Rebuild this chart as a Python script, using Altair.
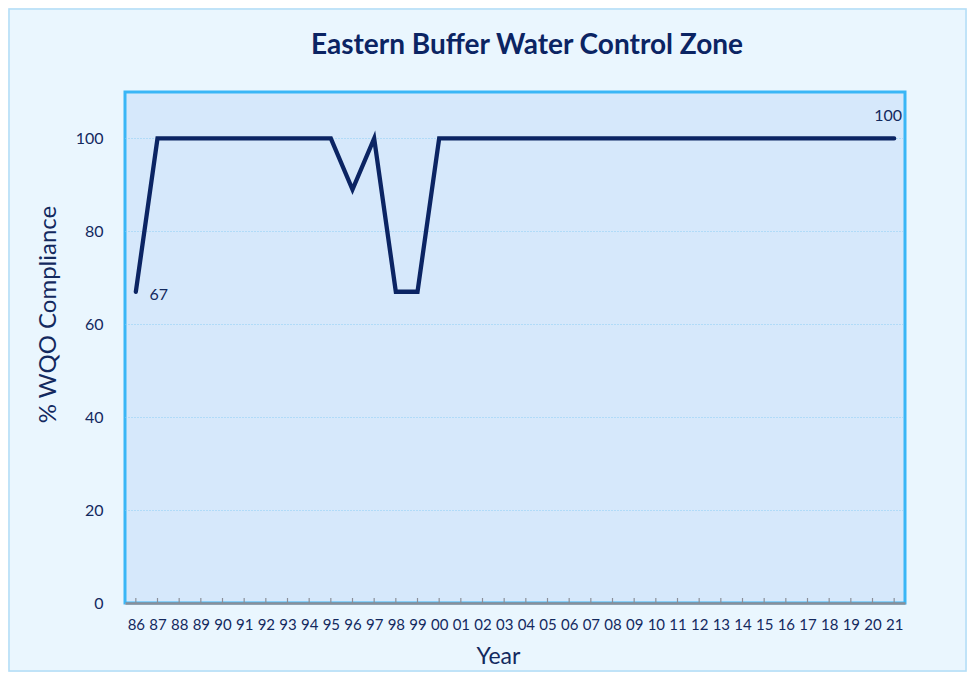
import altair as alt
import pandas as pd

title_text = "Eastern Buffer Water Control Zone"
years = ["86","87","88","89","90","91","92","93","94","95","96","97","98","99",
         "00","01","02","03","04","05","06","07","08","09","10","11","12","13",
         "14","15","16","17","18","19","20","21"]
values = [67,100,100,100,100,100,100,100,100,100,89,100,67,67,
          100,100,100,100,100,100,100,100,100,100,100,100,100,100,
          100,100,100,100,100,100,100,100]
label_years = ["86", "21"]
label_texts = ["67", "100"]

df = pd.DataFrame({"Year": years, "Value": values})
lab_first = pd.DataFrame({"Year": [label_years[0]], "Value": [values[0]], "Text": [label_texts[0]]})
lab_last = pd.DataFrame({"Year": [label_years[1]], "Value": [values[-1]], "Text": [label_texts[1]]})

W, H = 780, 511
FONT = "Lato"
NAVY = "#0B2463"
TXT = "#13295E"

xscale = alt.Scale(type="point", padding=0.5, domain=years)
yscale = alt.Scale(domain=[0, 110], nice=False)

x_enc = alt.X("Year:O", scale=xscale, sort=years,
              axis=alt.Axis(title="Year", labelAngle=0, ticks=False, labelPadding=14,
                            labelFontSize=15, labelColor=TXT, labelFont=FONT,
                            titleFont=FONT, titleFontSize=23, titleColor=TXT,
                            titleFontWeight="normal", titleX=373, titleY=53,
                            titleBaseline="middle", domainColor="#8A8F99", domainWidth=2.5,
                            grid=False))
y_enc = alt.Y("Value:Q", scale=yscale,
              axis=alt.Axis(title="% WQO Compliance", values=[0,20,40,60,80,100],
                            ticks=False, domain=False, labelPadding=22,
                            labelFontSize=16, labelColor=TXT, labelFont=FONT,
                            titleFont=FONT, titleFontSize=24, titleColor=TXT,
                            titleFontWeight="normal", titleX=-77, titleY=222,
                            titleBaseline="middle", grid=True, gridColor="#8CCFF5",
                            gridDash=[1, 2], gridWidth=1))

frame = alt.Chart(pd.DataFrame({"a": [0]})).mark_rect(
    fill=None, stroke="#B3DDF6", strokeWidth=1.5, clip=False
).encode(x=alt.value(-116), x2=alt.value(W + 61), y=alt.value(-83), y2=alt.value(H + 68))

title = alt.Chart(pd.DataFrame({"t": [title_text]})).mark_text(
    font=FONT, fontSize=28, fontWeight="bold", color=NAVY, align="center", baseline="middle"
).encode(x=alt.value(W / 2 + 12), y=alt.value(-46), text="t:N")

line = alt.Chart(df).mark_line(color=NAVY, strokeWidth=4.3, strokeCap="round", strokeJoin="miter").encode(
    x=x_enc, y=y_enc)

ticks = alt.Chart(df).mark_rule(color="#8A8F99", strokeWidth=1.2).encode(
    x=alt.X("Year:O", scale=xscale, sort=years), y=alt.value(H - 5), y2=alt.value(H))

lab1 = alt.Chart(lab_first).mark_text(font=FONT, fontSize=16, color=TXT, dx=23, dy=3).encode(
    x=alt.X("Year:O", scale=xscale, sort=years),
    y=alt.Y("Value:Q", scale=yscale),
    text="Text:N")
lab2 = alt.Chart(lab_last).mark_text(font=FONT, fontSize=16, color=TXT, dx=-6, dy=-22).encode(
    x=alt.X("Year:O", scale=xscale, sort=years),
    y=alt.Y("Value:Q", scale=yscale),
    text="Text:N")

chart = alt.layer(frame, title, line, ticks, lab1, lab2).properties(
    width=W, height=H,
    autosize=alt.AutoSizeParams(type="none"),
    padding={"left": 117, "top": 84, "right": 62, "bottom": 69},
).configure(background="#EAF6FE").configure_view(fill="#D6E8FB", stroke="#3AB6F6", strokeWidth=3)

chart.save("out.html", embed_options={"renderer": "svg", "actions": False})
